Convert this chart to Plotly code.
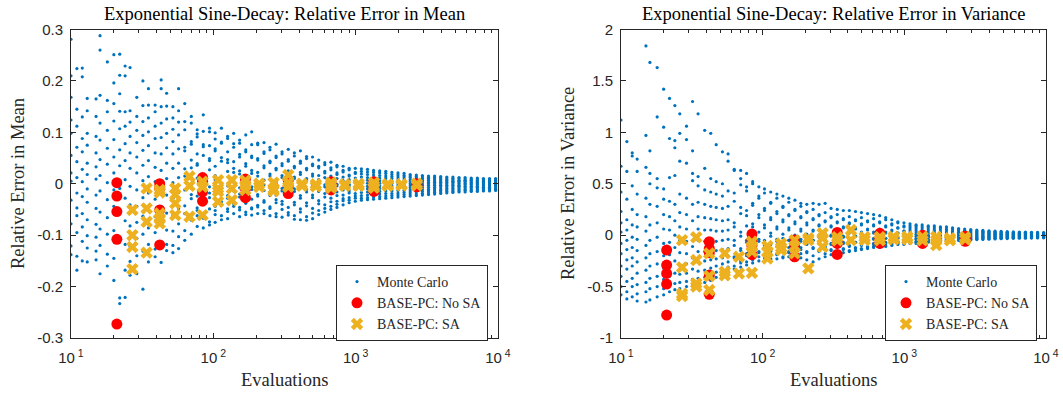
import plotly.graph_objects as go

# ---------------------------------------------------------------- data
# Monte Carlo sample sizes (one column of replicate estimates per size)
mc_evals = [10, 11, 12, 13, 15, 16, 18, 20, 22, 24, 26, 29, 32, 35, 39, 43, 47, 52, 57, 63,
            70, 77, 85, 94, 103, 114, 126, 139, 153, 169, 186, 205, 227, 250, 276, 304, 336,
            371, 409, 452, 498, 550, 607, 670, 739, 816, 900, 994, 1097, 1211, 1336, 1475,
            1628, 1797, 1983, 2189, 2416, 2667, 2943, 3249, 3586, 3958, 4369, 4822, 5323,
            5875, 6485, 7158, 7900, 8720, 9625]

# relative error in the mean, 12 replicates per sample size
mc_mean_err = [
    [0.281, 0.210, 0.168, 0.124, 0.098, 0.055, 0.021, 0.005, -0.032, -0.078, -0.121, -0.138],
    [0.224, 0.145, 0.112, 0.071, 0.043, 0.012, -0.018, -0.047, -0.062, -0.095, -0.141, -0.168],
    [0.225, 0.208, 0.130, 0.088, 0.062, 0.028, 0.004, -0.025, -0.058, -0.084, -0.112, -0.150],
    [0.166, 0.142, 0.098, 0.075, 0.040, 0.018, -0.010, -0.036, -0.070, -0.101, -0.125, -0.152],
    [0.165, 0.131, 0.092, 0.060, 0.033, 0.009, -0.022, -0.048, -0.079, -0.104, -0.131, -0.148],
    [0.288, 0.260, 0.172, 0.118, 0.085, 0.047, 0.016, -0.014, -0.055, -0.088, -0.120, -0.175],
    [0.237, 0.162, 0.140, 0.104, 0.069, 0.038, 0.002, -0.031, -0.066, -0.098, -0.137, -0.160],
    [0.251, 0.196, 0.156, 0.122, 0.086, 0.052, 0.021, -0.012, -0.044, -0.091, -0.145, -0.188],
    [0.252, 0.211, 0.175, 0.141, 0.107, 0.066, 0.035, -0.009, -0.052, -0.104, -0.222, -0.233],
    [0.229, 0.210, 0.140, 0.112, 0.078, 0.045, 0.008, -0.028, -0.072, -0.118, -0.168, -0.221],
    [0.226, 0.142, 0.120, 0.092, 0.060, 0.030, -0.005, -0.041, -0.082, -0.122, -0.151, -0.178],
    [0.168, 0.131, 0.104, 0.080, 0.052, 0.021, -0.012, -0.044, -0.075, -0.106, -0.140, -0.175],
    [0.200, 0.152, 0.121, 0.094, 0.065, 0.036, 0.006, -0.027, -0.063, -0.098, -0.131, -0.205],
    [0.185, 0.153, 0.128, 0.101, 0.074, 0.045, 0.014, -0.018, -0.051, -0.086, -0.118, -0.152],
    [0.153, 0.140, 0.112, 0.088, 0.060, 0.032, 0.004, -0.030, -0.064, -0.095, -0.127, -0.142],
    [0.202, 0.185, 0.150, 0.118, 0.090, 0.058, 0.026, -0.008, -0.044, -0.079, -0.112, -0.153],
    [0.176, 0.151, 0.126, 0.098, 0.070, 0.040, 0.010, -0.022, -0.057, -0.090, -0.118, -0.130],
    [0.150, 0.128, 0.106, 0.082, 0.058, 0.030, 0.002, -0.028, -0.061, -0.092, -0.120, -0.134],
    [0.185, 0.142, 0.120, 0.095, 0.068, 0.040, 0.012, -0.017, -0.048, -0.078, -0.103, -0.126],
    [0.156, 0.121, 0.105, 0.071, 0.064, 0.029, 0.015, -0.012, -0.043, -0.058, -0.091, -0.110],
    [0.131, 0.118, 0.082, 0.077, 0.046, 0.031, -0.004, -0.021, -0.029, -0.066, -0.071, -0.098],
    [0.105, 0.097, 0.091, 0.058, 0.039, 0.036, 0.011, -0.024, -0.047, -0.052, -0.083, -0.062],
    [0.134, 0.102, 0.076, 0.072, 0.055, 0.018, 0.002, -0.009, -0.038, -0.061, -0.067, -0.086],
    [0.108, 0.101, 0.074, 0.049, 0.045, 0.027, -0.006, -0.018, -0.027, -0.049, -0.074, -0.080],
    [0.099, 0.087, 0.068, 0.064, 0.034, 0.016, 0.008, -0.021, -0.044, -0.052, -0.060, -0.075],
    [0.108, 0.081, 0.079, 0.051, 0.044, 0.013, -0.007, -0.011, -0.035, -0.041, -0.062, -0.070],
    [0.092, 0.088, 0.062, 0.047, 0.041, 0.024, -0.004, -0.023, -0.028, -0.049, -0.054, -0.068],
    [0.098, 0.078, 0.071, 0.043, 0.030, 0.022, 0.005, -0.014, -0.037, -0.039, -0.058, -0.044],
    [0.085, 0.079, 0.057, 0.052, 0.025, 0.019, -0.008, -0.020, -0.026, -0.046, -0.051, -0.064],
    [0.095, 0.066, 0.062, 0.039, 0.034, 0.010, 0.004, -0.017, -0.035, -0.038, -0.055, -0.060],
    [0.101, 0.076, 0.054, 0.051, 0.026, 0.020, -0.006, -0.011, -0.030, -0.047, -0.049, -0.061],
    [0.079, 0.076, 0.049, 0.046, 0.022, 0.015, 0.003, -0.021, -0.024, -0.042, -0.058, -0.045],
    [0.080, 0.062, 0.059, 0.035, 0.031, 0.007, -0.002, -0.013, -0.033, -0.036, -0.052, -0.058],
    [0.071, 0.066, 0.044, 0.041, 0.019, 0.015, -0.008, -0.019, -0.023, -0.045, -0.048, -0.062],
    [0.077, 0.054, 0.051, 0.030, 0.027, 0.005, 0.001, -0.022, -0.031, -0.037, -0.058, -0.064],
    [0.062, 0.058, 0.039, 0.035, 0.016, 0.012, -0.009, -0.014, -0.034, -0.040, -0.050, -0.065],
    [0.067, 0.047, 0.044, 0.025, 0.022, 0.003, -0.001, -0.021, -0.025, -0.046, -0.056, -0.061],
    [0.060, 0.054, 0.034, 0.031, 0.013, 0.010, -0.010, -0.015, -0.036, -0.041, -0.062, -0.069],
    [0.064, 0.044, 0.040, 0.022, 0.018, 0.001, -0.004, -0.023, -0.028, -0.049, -0.055, -0.070],
    [0.053, 0.049, 0.030, 0.027, 0.010, 0.007, -0.011, -0.016, -0.037, -0.043, -0.064, -0.071],
    [0.052, 0.038, 0.035, 0.019, 0.015, -0.001, -0.005, -0.022, -0.027, -0.048, -0.057, -0.068],
    [0.046, 0.034, 0.031, 0.016, 0.008, 0.005, -0.010, -0.015, -0.033, -0.039, -0.052, -0.060],
    [0.041, 0.037, 0.024, 0.021, 0.012, -0.002, -0.006, -0.019, -0.026, -0.041, -0.048, -0.055],
    [0.042, 0.031, 0.027, 0.015, 0.007, 0.003, -0.009, -0.013, -0.028, -0.035, -0.044, -0.050],
    [0.036, 0.033, 0.021, 0.018, 0.010, -0.001, -0.004, -0.016, -0.023, -0.034, -0.040, -0.046],
    [0.034, 0.026, 0.023, 0.013, 0.006, 0.002, -0.008, -0.012, -0.022, -0.029, -0.033, -0.041],
    [0.030, 0.027, 0.017, 0.015, 0.008, -0.001, -0.004, -0.014, -0.018, -0.027, -0.032, -0.037],
    [0.030, 0.022, 0.020, 0.011, 0.005, 0.002, -0.007, -0.010, -0.019, -0.024, -0.028, -0.034],
    [0.029, 0.024, 0.019, 0.013, 0.007, 0.001, -0.005, -0.011, -0.017, -0.023, -0.028, -0.032],
    [0.028, 0.023, 0.018, 0.012, 0.007, 0.001, -0.005, -0.010, -0.016, -0.022, -0.027, -0.031],
    [0.026, 0.022, 0.017, 0.012, 0.006, 0.001, -0.004, -0.010, -0.015, -0.021, -0.026, -0.030],
    [0.025, 0.021, 0.016, 0.011, 0.006, 0.001, -0.004, -0.009, -0.015, -0.020, -0.025, -0.029],
    [0.024, 0.020, 0.015, 0.011, 0.006, 0.001, -0.004, -0.009, -0.014, -0.019, -0.024, -0.028],
    [0.022, 0.018, 0.014, 0.010, 0.005, 0.001, -0.004, -0.009, -0.014, -0.019, -0.023, -0.027],
    [0.021, 0.017, 0.013, 0.009, 0.005, 0.000, -0.004, -0.008, -0.013, -0.018, -0.022, -0.026],
    [0.020, 0.016, 0.013, 0.009, 0.005, 0.000, -0.004, -0.008, -0.013, -0.017, -0.021, -0.025],
    [0.018, 0.015, 0.012, 0.008, 0.004, 0.000, -0.004, -0.008, -0.012, -0.016, -0.020, -0.024],
    [0.017, 0.014, 0.011, 0.008, 0.004, 0.000, -0.004, -0.008, -0.012, -0.016, -0.020, -0.023],
    [0.016, 0.013, 0.010, 0.007, 0.004, 0.000, -0.003, -0.007, -0.011, -0.015, -0.019, -0.022],
    [0.015, 0.012, 0.010, 0.007, 0.003, 0.000, -0.003, -0.007, -0.011, -0.014, -0.018, -0.021],
    [0.015, 0.012, 0.009, 0.006, 0.003, 0.000, -0.003, -0.007, -0.010, -0.014, -0.017, -0.020],
    [0.014, 0.011, 0.009, 0.006, 0.003, 0.000, -0.003, -0.006, -0.010, -0.013, -0.016, -0.019],
    [0.013, 0.011, 0.008, 0.006, 0.003, 0.000, -0.003, -0.006, -0.009, -0.012, -0.015, -0.018],
    [0.013, 0.010, 0.008, 0.005, 0.003, 0.000, -0.003, -0.006, -0.009, -0.012, -0.015, -0.017],
    [0.012, 0.010, 0.007, 0.005, 0.002, 0.000, -0.003, -0.005, -0.008, -0.011, -0.014, -0.016],
    [0.012, 0.009, 0.007, 0.005, 0.002, 0.000, -0.002, -0.005, -0.008, -0.011, -0.013, -0.016],
    [0.011, 0.009, 0.007, 0.004, 0.002, 0.000, -0.002, -0.005, -0.008, -0.010, -0.013, -0.015],
    [0.011, 0.009, 0.006, 0.004, 0.002, 0.000, -0.002, -0.005, -0.007, -0.010, -0.012, -0.015],
    [0.010, 0.008, 0.006, 0.004, 0.002, 0.000, -0.002, -0.004, -0.007, -0.009, -0.012, -0.014],
    [0.010, 0.008, 0.006, 0.004, 0.002, 0.000, -0.002, -0.004, -0.007, -0.009, -0.011, -0.014],
    [0.010, 0.008, 0.006, 0.004, 0.002, 0.000, -0.002, -0.004, -0.006, -0.009, -0.011, -0.013],
]

# relative error in the variance, 12 replicates per sample size
mc_var_err = [
    [1.12, 0.67, 0.42, 0.23, 0.12, 0.03, -0.08, -0.18, -0.30, -0.40, -0.50, -0.58],
    [0.91, 0.62, 0.35, 0.15, 0.05, -0.05, -0.14, -0.24, -0.33, -0.45, -0.55, -0.62],
    [0.80, 0.77, 0.48, 0.25, 0.10, -0.02, -0.12, -0.22, -0.30, -0.42, -0.50, -0.60],
    [0.74, 0.62, 0.40, 0.20, 0.08, -0.04, -0.15, -0.26, -0.37, -0.48, -0.57, -0.64],
    [1.84, 0.97, 0.66, 0.36, 0.18, 0.04, -0.10, -0.22, -0.34, -0.46, -0.55, -0.65],
    [1.68, 0.82, 0.60, 0.50, 0.30, 0.10, -0.05, -0.18, -0.30, -0.42, -0.52, -0.63],
    [1.63, 1.15, 0.55, 0.46, 0.28, 0.12, -0.02, -0.16, -0.28, -0.40, -0.50, -0.60],
    [1.42, 1.05, 0.45, 0.35, 0.20, 0.06, -0.08, -0.20, -0.32, -0.43, -0.52, -0.58],
    [1.33, 0.94, 0.56, 0.33, 0.18, 0.05, -0.07, -0.19, -0.30, -0.40, -0.49, -0.55],
    [1.26, 0.92, 0.85, 0.58, 0.30, 0.14, 0.00, -0.12, -0.25, -0.37, -0.47, -0.53],
    [1.18, 0.99, 0.72, 0.40, 0.22, 0.08, -0.05, -0.17, -0.29, -0.38, -0.46, -0.52],
    [1.06, 0.93, 0.70, 0.36, 0.20, 0.06, -0.06, -0.18, -0.28, -0.37, -0.45, -0.50],
    [1.30, 0.82, 0.60, 0.53, 0.30, 0.14, 0.01, -0.11, -0.22, -0.33, -0.43, -0.49],
    [1.18, 0.57, 0.48, 0.32, 0.18, 0.06, -0.05, -0.16, -0.26, -0.35, -0.42, -0.48],
    [1.02, 0.65, 0.44, 0.30, 0.17, 0.05, -0.06, -0.16, -0.25, -0.34, -0.41, -0.46],
    [0.99, 0.55, 0.42, 0.28, 0.16, 0.05, -0.05, -0.15, -0.24, -0.32, -0.39, -0.44],
    [0.88, 0.52, 0.40, 0.27, 0.15, 0.04, -0.06, -0.15, -0.23, -0.30, -0.36, -0.41],
    [0.81, 0.50, 0.38, 0.26, 0.14, 0.04, -0.05, -0.14, -0.22, -0.28, -0.33, -0.37],
    [0.79, 0.72, 0.43, 0.28, 0.15, 0.05, -0.04, -0.13, -0.20, -0.26, -0.31, -0.35],
    [0.64, 0.63, 0.41, 0.33, 0.12, 0.08, -0.05, -0.10, -0.21, -0.22, -0.30, -0.33],
    [0.63, 0.55, 0.49, 0.27, 0.21, 0.03, -0.01, -0.13, -0.15, -0.25, -0.27, -0.31],
    [0.60, 0.47, 0.43, 0.24, 0.19, 0.09, -0.05, -0.07, -0.18, -0.20, -0.29, -0.26],
    [0.52, 0.50, 0.31, 0.29, 0.11, 0.08, 0.01, -0.11, -0.13, -0.22, -0.24, -0.27],
    [0.47, 0.38, 0.36, 0.20, 0.17, 0.03, -0.04, -0.06, -0.16, -0.17, -0.25, -0.21],
    [0.45, 0.41, 0.26, 0.24, 0.10, 0.07, -0.05, -0.10, -0.12, -0.20, -0.22, -0.25],
    [0.42, 0.32, 0.31, 0.17, 0.15, 0.02, -0.01, -0.09, -0.15, -0.16, -0.23, -0.24],
    [0.40, 0.36, 0.23, 0.21, 0.08, 0.06, -0.04, -0.06, -0.11, -0.19, -0.18, -0.23],
    [0.38, 0.28, 0.27, 0.15, 0.13, 0.01, -0.03, -0.09, -0.14, -0.13, -0.21, -0.22],
    [0.36, 0.32, 0.20, 0.19, 0.07, 0.05, -0.05, -0.05, -0.12, -0.17, -0.16, -0.21],
    [0.34, 0.25, 0.24, 0.13, 0.11, 0.00, -0.02, -0.09, -0.10, -0.15, -0.19, -0.20],
    [0.31, 0.28, 0.18, 0.17, 0.06, 0.04, -0.04, -0.06, -0.12, -0.14, -0.18, -0.22],
    [0.30, 0.23, 0.22, 0.12, 0.10, 0.01, -0.01, -0.08, -0.09, -0.16, -0.17, -0.24],
    [0.31, 0.25, 0.16, 0.15, 0.05, 0.04, -0.05, -0.05, -0.12, -0.13, -0.20, -0.26],
    [0.30, 0.20, 0.19, 0.10, 0.09, 0.00, -0.02, -0.08, -0.08, -0.15, -0.16, -0.23],
    [0.31, 0.22, 0.14, 0.13, 0.05, 0.03, -0.05, -0.05, -0.11, -0.12, -0.18, -0.21],
    [0.26, 0.18, 0.17, 0.09, 0.08, 0.00, -0.01, -0.08, -0.09, -0.14, -0.15, -0.19],
    [0.25, 0.20, 0.13, 0.12, 0.04, 0.03, -0.04, -0.05, -0.11, -0.12, -0.17, -0.18],
    [0.24, 0.16, 0.15, 0.08, 0.07, -0.01, -0.02, -0.07, -0.08, -0.13, -0.14, -0.17],
    [0.24, 0.18, 0.12, 0.11, 0.04, 0.02, -0.04, -0.05, -0.10, -0.11, -0.15, -0.16],
    [0.23, 0.15, 0.14, 0.07, 0.06, -0.01, -0.01, -0.07, -0.07, -0.12, -0.13, -0.15],
    [0.22, 0.17, 0.11, 0.10, 0.03, 0.02, -0.03, -0.04, -0.09, -0.10, -0.13, -0.14],
    [0.21, 0.14, 0.13, 0.06, 0.05, -0.01, -0.01, -0.06, -0.07, -0.11, -0.12, -0.13],
    [0.20, 0.16, 0.10, 0.09, 0.03, 0.02, -0.03, -0.04, -0.08, -0.09, -0.11, -0.12],
    [0.19, 0.13, 0.12, 0.06, 0.05, -0.01, -0.01, -0.05, -0.06, -0.09, -0.10, -0.12],
    [0.17, 0.15, 0.09, 0.08, 0.03, 0.02, -0.03, -0.03, -0.07, -0.08, -0.10, -0.11],
    [0.15, 0.11, 0.10, 0.05, 0.04, -0.01, -0.01, -0.04, -0.05, -0.08, -0.09, -0.10],
    [0.13, 0.12, 0.07, 0.07, 0.02, 0.02, -0.02, -0.03, -0.06, -0.07, -0.08, -0.09],
    [0.12, 0.09, 0.08, 0.04, 0.04, 0.00, -0.01, -0.04, -0.05, -0.06, -0.08, -0.09],
    [0.11, 0.09, 0.07, 0.05, 0.03, 0.01, -0.01, -0.03, -0.04, -0.06, -0.07, -0.08],
    [0.10, 0.09, 0.07, 0.05, 0.03, 0.01, -0.01, -0.03, -0.04, -0.06, -0.07, -0.08],
    [0.10, 0.08, 0.06, 0.04, 0.02, 0.01, -0.01, -0.02, -0.04, -0.05, -0.06, -0.07],
    [0.09, 0.08, 0.06, 0.04, 0.02, 0.00, -0.01, -0.02, -0.04, -0.05, -0.06, -0.07],
    [0.09, 0.07, 0.05, 0.04, 0.02, 0.00, -0.01, -0.02, -0.03, -0.05, -0.06, -0.07],
    [0.08, 0.07, 0.05, 0.03, 0.02, 0.00, -0.01, -0.02, -0.03, -0.04, -0.05, -0.06],
    [0.08, 0.06, 0.05, 0.03, 0.02, 0.00, -0.01, -0.02, -0.03, -0.04, -0.05, -0.06],
    [0.07, 0.06, 0.04, 0.03, 0.02, 0.00, -0.01, -0.02, -0.03, -0.04, -0.05, -0.06],
    [0.065, 0.052, 0.040, 0.028, 0.016, 0.005, -0.006, -0.016, -0.026, -0.035, -0.044, -0.052],
    [0.060, 0.048, 0.037, 0.026, 0.015, 0.004, -0.006, -0.015, -0.025, -0.034, -0.042, -0.049],
    [0.055, 0.045, 0.034, 0.024, 0.014, 0.004, -0.005, -0.014, -0.023, -0.032, -0.040, -0.046],
    [0.050, 0.041, 0.032, 0.022, 0.013, 0.004, -0.005, -0.013, -0.022, -0.030, -0.037, -0.043],
    [0.046, 0.038, 0.029, 0.021, 0.012, 0.004, -0.005, -0.013, -0.021, -0.028, -0.035, -0.041],
    [0.042, 0.035, 0.027, 0.019, 0.011, 0.003, -0.004, -0.012, -0.019, -0.026, -0.033, -0.039],
    [0.039, 0.032, 0.025, 0.018, 0.010, 0.003, -0.004, -0.011, -0.018, -0.025, -0.031, -0.037],
    [0.036, 0.030, 0.023, 0.016, 0.010, 0.003, -0.004, -0.011, -0.017, -0.024, -0.030, -0.035],
    [0.034, 0.028, 0.022, 0.015, 0.009, 0.003, -0.004, -0.010, -0.016, -0.022, -0.028, -0.033],
    [0.032, 0.026, 0.020, 0.014, 0.008, 0.002, -0.004, -0.010, -0.015, -0.021, -0.026, -0.031],
    [0.030, 0.025, 0.019, 0.013, 0.008, 0.002, -0.003, -0.009, -0.014, -0.020, -0.025, -0.030],
    [0.029, 0.024, 0.018, 0.013, 0.007, 0.002, -0.003, -0.009, -0.014, -0.019, -0.024, -0.029],
    [0.028, 0.023, 0.017, 0.012, 0.007, 0.002, -0.003, -0.008, -0.013, -0.018, -0.023, -0.028],
    [0.027, 0.022, 0.017, 0.012, 0.007, 0.002, -0.003, -0.008, -0.013, -0.018, -0.022, -0.027],
    [0.026, 0.021, 0.016, 0.011, 0.006, 0.002, -0.003, -0.008, -0.012, -0.017, -0.021, -0.026],
]

# BASE-PC without sensitivity analysis: (evaluations, error) pairs
pc_nosa_mean_evals = [21, 21, 21, 21, 21, 42, 42, 42, 42, 84, 84, 84, 84, 168, 168, 168,
                      336, 336, 336, 672, 672, 672, 1344, 1344, 1344, 2688, 2688, 2688]
pc_nosa_mean_err = [0.002, -0.024, -0.054, -0.108, -0.273, 0.000, -0.009, -0.051, -0.119,
                    0.012, 0.005, -0.016, -0.034, 0.009, -0.009, -0.027,
                    0.007, -0.005, -0.019, 0.004, -0.003, -0.012, 0.004, -0.006, -0.015,
                    0.000, -0.003, -0.006]

pc_nosa_var_evals = [21, 21, 21, 21, 21, 42, 42, 42, 42, 42, 84, 84, 84, 84, 168, 168, 168,
                     336, 336, 336, 672, 672, 672, 1344, 1344, 1344, 2688, 2688, 2688]
pc_nosa_var_err = [-0.145, -0.291, -0.372, -0.476, -0.777, -0.064, -0.130, -0.170, -0.388, -0.575,
                   0.011, -0.048, -0.100, -0.190, -0.048, -0.110, -0.210,
                   0.027, -0.080, -0.187, 0.018, -0.030, -0.080, 0.000, -0.040, -0.080,
                   -0.010, -0.030, -0.060]

# BASE-PC with sensitivity analysis
pc_sa_mean_evals = [27, 27, 27, 27, 34, 34, 34, 34, 42, 42, 42, 42, 42, 54, 54, 54, 54,
                    68, 68, 68, 84, 84, 84, 108, 108, 108, 108, 135, 135, 135, 168, 168, 168,
                    210, 210, 265, 265, 265, 336, 336, 336, 420, 420, 525, 525, 672, 672, 672,
                    840, 840, 1050, 1050, 1344, 1344, 1344, 1680, 1680, 2100, 2100, 2688, 2688]
pc_sa_mean_err = [-0.051, -0.100, -0.123, -0.166, -0.009, -0.048, -0.074, -0.134,
                  -0.012, -0.017, -0.058, -0.068, -0.077, -0.009, -0.021, -0.038, -0.061,
                  0.014, -0.004, -0.064, 0.004, -0.006, -0.061, 0.007, -0.009, -0.015, -0.035,
                  0.007, -0.009, -0.032, 0.006, -0.003, -0.012,
                  0.000, -0.006, 0.002, -0.010, -0.014, 0.017, 0.002, -0.006, 0.000, -0.004,
                  -0.001, -0.005, 0.002, -0.003, -0.008, -0.001, -0.004, 0.000, -0.004,
                  0.002, -0.004, -0.008, -0.001, -0.004, -0.001, -0.003, 0.000, -0.003]

pc_sa_var_evals = [27, 27, 27, 27, 34, 34, 34, 34, 42, 42, 42, 54, 54, 54, 68, 68,
                   84, 84, 84, 84, 108, 108, 108, 135, 135, 135, 168, 168, 168,
                   210, 210, 210, 265, 265, 265, 336, 336, 420, 420, 525, 525, 672, 672,
                   840, 840, 1050, 1050, 1344, 1344, 1680, 1680, 1680, 2100, 2100, 2688, 2688]
pc_sa_var_err = [-0.048, -0.313, -0.570, -0.593, -0.021, -0.242, -0.469, -0.500,
                 -0.177, -0.398, -0.534, -0.177, -0.356, -0.390, -0.210, -0.372,
                 -0.064, -0.110, -0.161, -0.366, -0.106, -0.160, -0.226, -0.081, -0.120, -0.145,
                 -0.048, -0.110, -0.177, -0.030, -0.048, -0.323, 0.018, -0.030, -0.113,
                 -0.020, -0.050, 0.050, -0.048, -0.020, -0.048, -0.020, -0.050,
                 -0.016, -0.040, -0.016, -0.040, -0.016, -0.050, -0.016, -0.050, -0.097,
                 -0.030, -0.050, -0.020, -0.040]

x_tick_vals = [10, 100, 1000, 10000]
x_tick_text = ["10<sup> 1</sup>", "10<sup> 2</sup>", "10<sup> 3</sup>", "10<sup> 4</sup>"]
mean_tick_vals = [-0.3, -0.2, -0.1, 0, 0.1, 0.2, 0.3]
mean_tick_text = ["-0.3", "-0.2", "-0.1", "0", "0.1", "0.2", "0.3"]
var_tick_vals = [-1, -0.5, 0, 0.5, 1, 1.5, 2]
var_tick_text = ["-1", "-0.5", "0", "0.5", "1", "1.5", "2"]

# ---------------------------------------------------------------- style
MC_BLUE = "#0072BD"
PC_RED = "#FF0000"
SA_GOLD = "#EDB120"
AXIS = "#262626"
SERIF = "Liberation Serif, DejaVu Serif, serif"
SANS = "Liberation Sans, Arial, sans-serif"

minor_x = [m * 10 ** e for e in (1, 2, 3) for m in range(2, 10)]


def flatten(evals, columns):
    xs, ys = [], []
    for n, col in zip(evals, columns):
        for v in col:
            xs.append(n)
            ys.append(v)
    return xs, ys


fig = go.Figure()

panels = [
    ("x", "y", "legend", mc_mean_err, pc_nosa_mean_evals, pc_nosa_mean_err,
     pc_sa_mean_evals, pc_sa_mean_err),
    ("x2", "y2", "legend2", mc_var_err, pc_nosa_var_evals, pc_nosa_var_err,
     pc_sa_var_evals, pc_sa_var_err),
]

for xa, ya, leg, mc_cols, nx, ny, sx, sy in panels:
    mx, my = flatten(mc_evals, mc_cols)
    fig.add_trace(go.Scatter(
        x=mx, y=my, mode="markers", name="Monte Carlo", xaxis=xa, yaxis=ya, legend=leg,
        marker=dict(color=MC_BLUE, size=3.2, line=dict(width=0)),
    ))
    fig.add_trace(go.Scatter(
        x=nx, y=ny, mode="markers", name="BASE-PC: No SA", xaxis=xa, yaxis=ya, legend=leg,
        marker=dict(color=PC_RED, size=11, symbol="circle", line=dict(width=0)),
    ))
    fig.add_trace(go.Scatter(
        x=sx, y=sy, mode="markers", name="BASE-PC: SA", xaxis=xa, yaxis=ya, legend=leg,
        marker=dict(color=SA_GOLD, size=11, symbol="x", line=dict(width=0)),
    ))

W, H = 1063, 394
left_dom = [71 / W, 498 / W]
right_dom = [621 / W, 1046 / W]
y_dom = [(H - 338) / H, (H - 29.5) / H]


def x_axis(domain, anchor):
    return dict(
        type="log", range=[1, 4], domain=domain, anchor=anchor,
        tickvals=x_tick_vals, ticktext=x_tick_text,
        ticks="inside", ticklen=5, tickwidth=1, tickcolor=AXIS,
        minor=dict(tickvals=minor_x, ticks="inside", ticklen=3, tickwidth=1, tickcolor=AXIS),
        showline=True, linecolor=AXIS, linewidth=1, mirror="allticks",
        showgrid=False, zeroline=False, ticklabelstandoff=6,
        tickfont=dict(family=SANS, size=15, color=AXIS),
    )


def y_axis(domain, anchor, rng, vals, text):
    return dict(
        range=rng, domain=domain, anchor=anchor,
        tickvals=vals, ticktext=text,
        ticks="inside", ticklen=5, tickwidth=1, tickcolor=AXIS,
        showline=True, linecolor=AXIS, linewidth=1, mirror="allticks",
        showgrid=False, zeroline=False, ticklabelstandoff=4,
        tickfont=dict(family=SANS, size=15, color=AXIS),
    )


legend_style = dict(
    bgcolor="white", bordercolor=AXIS, borderwidth=1,
    font=dict(family=SERIF, size=14, color=AXIS),
    xanchor="left", yanchor="top", itemsizing="trace",
    tracegroupgap=0,
)

fig.update_layout(
    width=W, height=H,
    margin=dict(l=0, r=0, t=0, b=0, pad=0, autoexpand=False),
    paper_bgcolor="white", plot_bgcolor="white",
    xaxis=x_axis(left_dom, "y"),
    yaxis=y_axis(y_dom, "x", [-0.3, 0.3], mean_tick_vals, mean_tick_text),
    xaxis2=x_axis(right_dom, "y2"),
    yaxis2=y_axis(y_dom, "x2", [-1, 2], var_tick_vals, var_tick_text),
    legend=dict(x=336 / W, y=(H - 265) / H, **legend_style),
    legend2=dict(x=885 / W, y=(H - 265) / H, **legend_style),
    showlegend=True,
)

titles = [
    ("Exponential Sine-Decay: Relative Error in Mean", (left_dom[0] + left_dom[1]) / 2),
    ("Exponential Sine-Decay: Relative Error in Variance", (right_dom[0] + right_dom[1]) / 2),
]
for text, xc in titles:
    fig.add_annotation(text=text, x=xc, y=(H - 14) / H, xref="paper", yref="paper",
                       xanchor="center", yanchor="middle", showarrow=False,
                       font=dict(family=SERIF, size=18.5, color="black"))
    fig.add_annotation(text="Evaluations", x=xc, y=(H - 380) / H, xref="paper", yref="paper",
                       xanchor="center", yanchor="middle", showarrow=False,
                       font=dict(family=SERIF, size=18.5, color=AXIS))

for text, xp in [("Relative Error in Mean", 18), ("Relative Error in Variance", 568)]:
    fig.add_annotation(text=text, x=xp / W, y=(H - 184) / H, xref="paper", yref="paper",
                       xanchor="center", yanchor="middle", showarrow=False, textangle=-90,
                       font=dict(family=SERIF, size=18.5, color=AXIS))

fig.write_html("out.html")
